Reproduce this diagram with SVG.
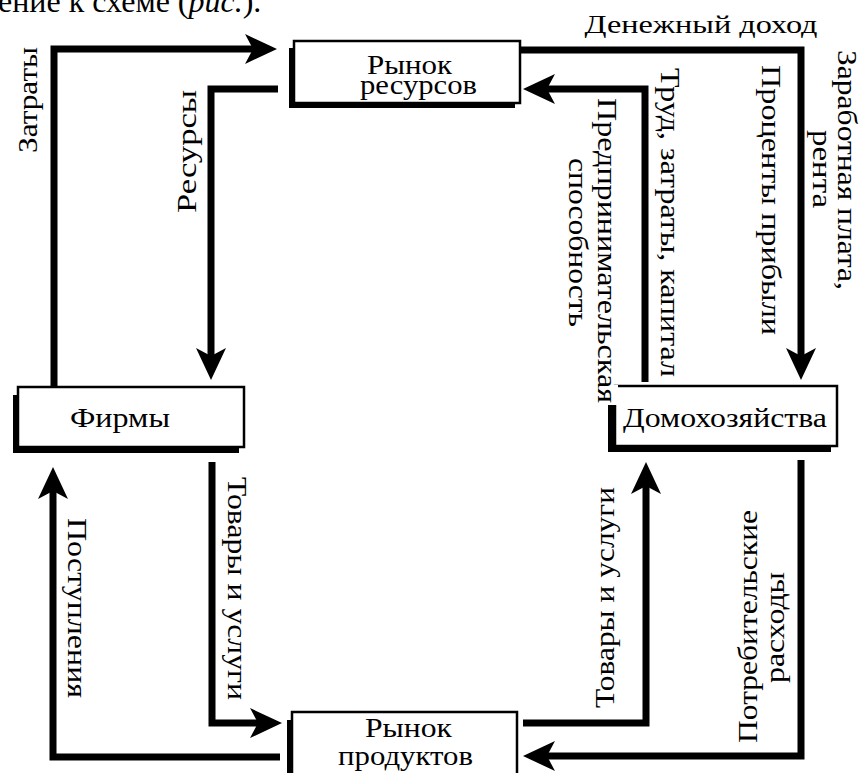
<svg xmlns="http://www.w3.org/2000/svg" width="862" height="773" viewBox="0 0 862 773">
<style>
.box{fill:#fff;stroke:#000;stroke-width:2.5}
.sh{fill:#000}
.t{font-family:"Liberation Serif","Times New Roman",serif;font-size:28px;fill:#000}
.l{font-family:"Liberation Serif","Times New Roman",serif;font-size:28px;fill:#000;text-anchor:middle}
.c{fill:none;stroke:#000;stroke-width:7;stroke-linejoin:miter;marker-end:url(#ah)}
</style>
<defs>
<marker id="ah" markerUnits="userSpaceOnUse" viewBox="0 0 32 30" markerWidth="32" markerHeight="30" refX="12" refY="15" orient="auto">
<path d="M0 0 L32 15 L0 30 L8 15 Z" fill="#000"/>
</marker>
</defs>
<rect width="862" height="773" fill="#fff"/>
<text x="-2" y="12" font-family="Liberation Serif, serif" font-size="32" fill="#000">ение к схеме (<tspan font-style="italic">рис.</tspan>).</text>

<g id="resource-market">
<rect class="sh" x="289" y="48" width="226" height="60"/>
<rect class="box" x="294" y="41" width="226" height="62"/>
<text class="t" x="367" y="74" textLength="85" lengthAdjust="spacingAndGlyphs">Рынок</text>
<text class="t" x="360" y="94" textLength="117" lengthAdjust="spacingAndGlyphs">ресурсов</text>
</g>

<g id="firms">
<rect class="sh" x="13" y="395" width="226" height="58"/>
<rect class="box" x="18" y="387" width="226" height="60"/>
<text class="t" x="70" y="427" textLength="100" lengthAdjust="spacingAndGlyphs">Фирмы</text>
</g>

<g id="households">
<rect class="sh" x="608" y="394" width="223" height="58"/>
<rect class="box" x="615" y="386" width="222" height="60"/>
<text class="t" x="623" y="427" textLength="204" lengthAdjust="spacingAndGlyphs">Домохозяйства</text>
</g>

<g id="product-market">
<rect class="sh" x="287" y="720" width="224" height="80"/>
<rect class="box" x="292" y="712" width="225" height="80"/>
<text class="t" x="365" y="737" textLength="87" lengthAdjust="spacingAndGlyphs">Рынок</text>
<text class="t" x="338" y="765" textLength="135" lengthAdjust="spacingAndGlyphs">продуктов</text>
</g>

<g id="connectors">
<path class="c" d="M54 386 V49 H257"/>
<path class="c" d="M278 89 H211 V360"/>
<path class="c" d="M520 50 H801 V360"/>
<path class="c" d="M645 382 V89 H543"/>
<path class="c" d="M280 757 H53 V487"/>
<path class="c" d="M212 462 V723 H262"/>
<path class="c" d="M523 723 H646 V482"/>
<path class="c" d="M801 460 V756 H543"/>

<text class="l" x="701" y="33" style="font-size:26px" textLength="233" lengthAdjust="spacingAndGlyphs">Денежный доход</text>
<text class="l" transform="translate(37 100) rotate(-90)" textLength="106" lengthAdjust="spacingAndGlyphs">Затраты</text>
<text class="l" transform="translate(196 151.5) rotate(-90)" textLength="123" lengthAdjust="spacingAndGlyphs">Ресурсы</text>
<text class="l" transform="translate(762 200) rotate(90)" textLength="270" lengthAdjust="spacingAndGlyphs">Проценты прибыли</text>
<text class="l" transform="translate(661 222.5) rotate(90)" textLength="309" lengthAdjust="spacingAndGlyphs">Труд, затраты, капитал</text>
<text class="l" transform="translate(838 170) rotate(90)" textLength="240" lengthAdjust="spacingAndGlyphs">Заработная плата,</text>
<text class="l" transform="translate(813 169) rotate(90)" textLength="78" lengthAdjust="spacingAndGlyphs">рента</text>
<rect x="596" y="385" width="22" height="20" fill="#fff"/>
<text class="l" transform="translate(598 250.5) rotate(90)" textLength="305" lengthAdjust="spacingAndGlyphs">Предпринимательская</text>
<text class="l" transform="translate(569 242.5) rotate(90)" textLength="169" lengthAdjust="spacingAndGlyphs">способность</text>
<text class="l" transform="translate(68 608) rotate(90)" textLength="180" lengthAdjust="spacingAndGlyphs">Поступления</text>
<text class="l" transform="translate(228 588.5) rotate(90)" textLength="223" lengthAdjust="spacingAndGlyphs">Товары и услуги</text>
<text class="l" transform="translate(614 597.5) rotate(-90)" textLength="221" lengthAdjust="spacingAndGlyphs">Товары и услуги</text>
<text class="l" transform="translate(757 626.5) rotate(-90)" textLength="233" lengthAdjust="spacingAndGlyphs">Потребительские</text>
<text class="l" transform="translate(784 627.5) rotate(-90)" textLength="111" lengthAdjust="spacingAndGlyphs">расходы</text>
</g>
</svg>
